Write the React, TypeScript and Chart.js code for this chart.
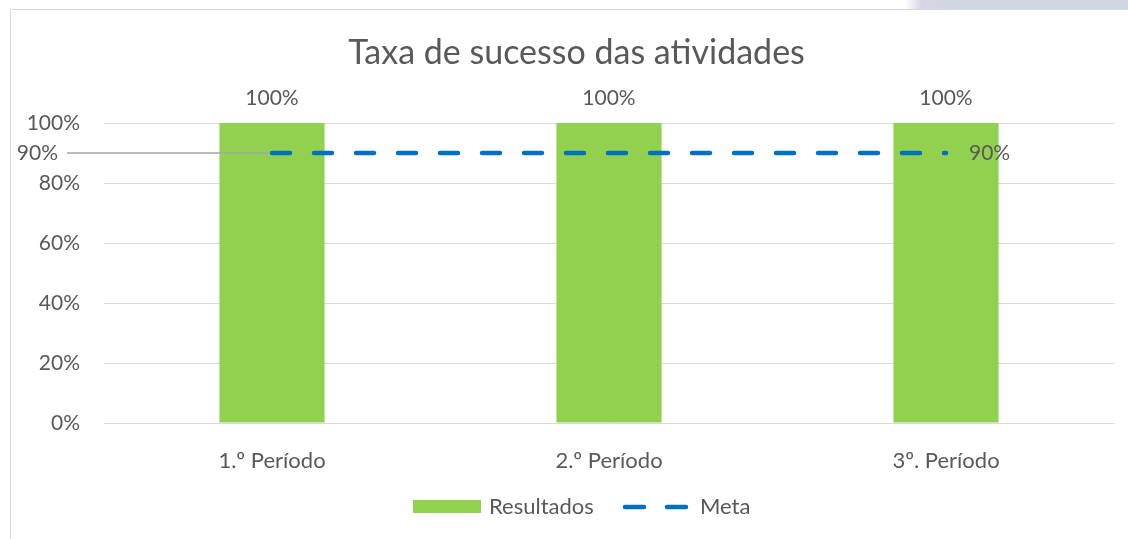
import React, { useEffect, useRef } from "react";
import { Chart, registerables } from "chart.js";

Chart.register(...registerables);

const title = "Taxa de sucesso das atividades";
const categories = ["1.º Período", "2.º Período", "3º. Período"];
const resultados = [100, 100, 100];
const meta = [90, 90, 90];
const seriesNames = ["Resultados", "Meta"];
const yMin = 0;
const yMax = 100;
const yStep = 20;

const FONT = "Lato, 'Liberation Sans', sans-serif";
const TEXT = "#595959";
const GREEN = "#92D050";
const BLUE = "#0070C0";
const GRID = "#d9d9d9";
const pct = (v: number) => `${v}%`;

export default function App() {
  const ref = useRef<HTMLCanvasElement>(null);

  useEffect(() => {
    document.body.style.margin = "0";
    const canvas = ref.current!;

    const decor = {
      id: "decor",
      beforeDraw(chart: any) {
        const ctx = chart.ctx as CanvasRenderingContext2D;
        ctx.save();
        ctx.fillStyle = "#ffffff";
        ctx.fillRect(0, 0, chart.width, chart.height);
        const g = ctx.createLinearGradient(905, 0, 960, 0);
        g.addColorStop(0, "#ffffff");
        g.addColorStop(0.3, "#d8d4e6");
        g.addColorStop(1, "#d0d6e4");
        ctx.fillStyle = g;
        ctx.fillRect(905, 0, chart.width - 905, 9);
        ctx.strokeStyle = GRID;
        ctx.lineWidth = 1;
        ctx.beginPath();
        ctx.moveTo(10.5, chart.height);
        ctx.lineTo(10.5, 9.5);
        ctx.lineTo(chart.width, 9.5);
        ctx.stroke();
        // title
        ctx.fillStyle = TEXT;
        ctx.font = `34px ${FONT}`;
        ctx.textAlign = "center";
        ctx.textBaseline = "middle";
        ctx.fillText(title, 576.5, 53);
        ctx.restore();
      },
      beforeDatasetDraw(chart: any, args: any) {
        if (args.index !== 1) return;
        const ctx = chart.ctx as CanvasRenderingContext2D;
        const p = chart.getDatasetMeta(1).data[0];
        ctx.save();
        ctx.strokeStyle = "#a6a6a6";
        ctx.lineWidth = 1.5;
        ctx.beginPath();
        ctx.moveTo(67, p.y);
        ctx.lineTo(p.x, p.y);
        ctx.stroke();
        ctx.restore();
      },
      afterDatasetsDraw(chart: any) {
        const ctx = chart.ctx as CanvasRenderingContext2D;
        ctx.save();
        ctx.fillStyle = TEXT;
        ctx.font = `21px ${FONT}`;
        ctx.textBaseline = "middle";
        ctx.textAlign = "center";
        chart.getDatasetMeta(0).data.forEach((bar: any, i: number) => {
          ctx.fillText(pct(resultados[i]), bar.x, bar.y - 25);
        });
        const pts = chart.getDatasetMeta(1).data;
        const first = pts[0];
        const last = pts[pts.length - 1];
        ctx.textAlign = "right";
        ctx.fillText(pct(meta[0]), 58, first.y);
        ctx.textAlign = "left";
        ctx.fillText(pct(meta[meta.length - 1]), last.x + 23, last.y);

        // legend
        const ly = 507;
        ctx.font = `22px ${FONT}`;
        ctx.fillStyle = GREEN;
        ctx.fillRect(413, 500, 68, 13);
        ctx.fillStyle = TEXT;
        ctx.fillText(seriesNames[0], 489, ly);
        ctx.strokeStyle = BLUE;
        ctx.lineWidth = 4.5;
        ctx.lineCap = "round";
        ctx.beginPath();
        ctx.moveTo(625, ly);
        ctx.lineTo(644, ly);
        ctx.moveTo(667, ly);
        ctx.lineTo(686, ly);
        ctx.stroke();
        ctx.fillText(seriesNames[1], 700, ly);
        ctx.restore();
      },
    };

    const chart = new Chart(canvas, {
      data: {
        labels: categories,
        datasets: [
          {
            type: "bar",
            label: seriesNames[0],
            data: resultados,
            backgroundColor: GREEN,
            barPercentage: 0.312,
            categoryPercentage: 1,
            order: 1,
          },
          {
            type: "line",
            label: seriesNames[1],
            data: meta,
            borderColor: BLUE,
            borderWidth: 4.5,
            borderDash: [18, 24],
            borderCapStyle: "round",
            pointRadius: 0,
            fill: false,
            order: 0,
          },
        ],
      } as any,
      options: {
        responsive: false,
        animation: false,
        devicePixelRatio: 1,
        layout: { padding: { left: 0, right: 13.5, top: 123, bottom: 0 } },
        plugins: {
          legend: { display: false },
          tooltip: { enabled: false },
          title: { display: false },
        },
        scales: {
          x: {
            grid: { display: false },
            border: { display: false },
            ticks: {
              color: TEXT,
              font: { family: FONT, size: 22 },
              padding: 16.8,
              maxRotation: 0,
            },
            afterFit: (s: any) => {
              s.height = 116;
            },
          },
          y: {
            min: yMin,
            max: yMax,
            grid: { color: GRID, lineWidth: 1, drawTicks: false },
            border: { display: false },
            ticks: {
              stepSize: yStep,
              color: TEXT,
              font: { family: FONT, size: 21 },
              padding: 23.5,
              callback: (v: any) => pct(Number(v)),
            },
            afterFit: (s: any) => {
              s.width = 103.5;
            },
          },
        },
      } as any,
      plugins: [decor],
    });

    return () => chart.destroy();
  }, []);

  return (
    <canvas
      ref={ref}
      width={1128}
      height={539}
      style={{ display: "block", width: "1128px", height: "539px" }}
    />
  );
}
